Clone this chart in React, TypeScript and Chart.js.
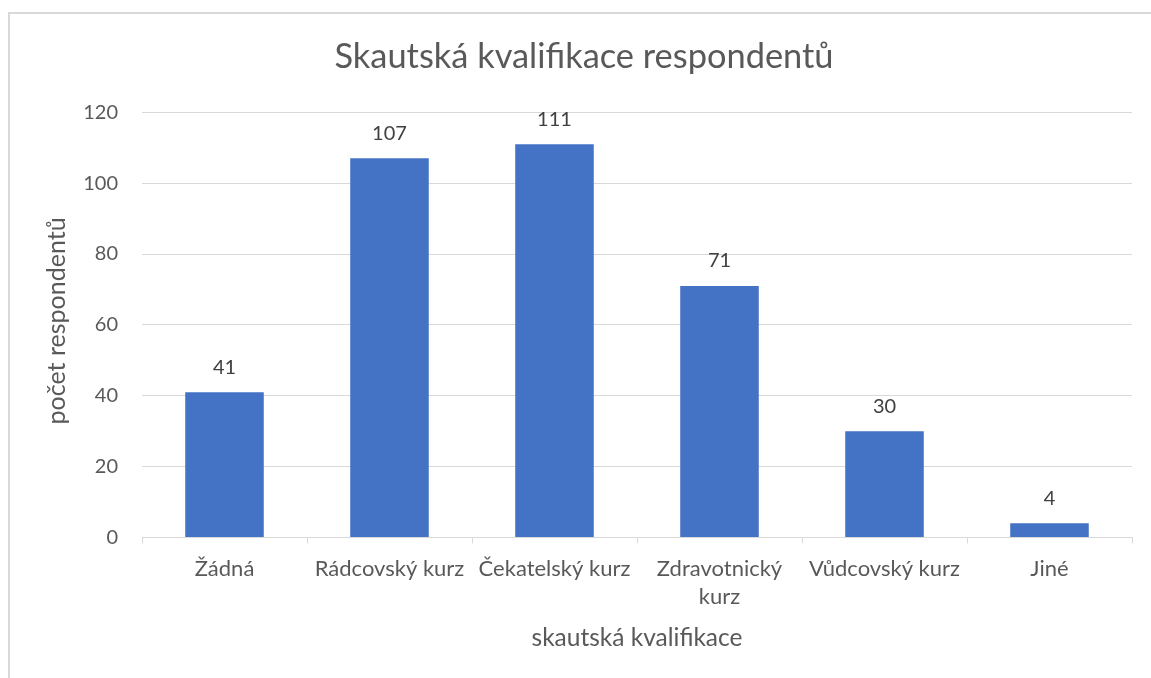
import React, { useEffect, useRef } from 'react';
import { Chart, registerables } from 'chart.js';

Chart.register(...registerables);

const categories: (string | string[])[] = [
  'Žádná',
  'Rádcovský kurz',
  'Čekatelský kurz',
  ['Zdravotnický', 'kurz'],
  'Vůdcovský kurz',
  'Jiné',
];
const counts = [41, 107, 111, 71, 30, 4];
const yTickValues = [0, 20, 40, 60, 80, 100, 120];
const chartTitle = 'Skautská kvalifikace respondentů';
const xAxisTitle = 'skautská kvalifikace';
const yAxisTitle = 'počet respondentů';

const FONT = 'Lato, "Open Sans", sans-serif';
const TEXT = '#595959';
const GRID = '#d9d9d9';
const BAR = '#4472c4';

const valueLabels = {
  id: 'valueLabels',
  afterDatasetsDraw(chart: any) {
    const { ctx } = chart;
    const meta = chart.getDatasetMeta(0);
    ctx.save();
    ctx.font = `20px ${FONT}`;
    ctx.fillStyle = '#404040';
    ctx.textAlign = 'center';
    ctx.textBaseline = 'middle';
    meta.data.forEach((bar: any, i: number) => {
      ctx.fillText(String(counts[i]), bar.x, bar.y - 25);
    });
    ctx.restore();
  },
};

const yTitlePlugin = {
  id: 'yTitle',
  afterDraw(chart: any) {
    const { ctx, chartArea } = chart;
    ctx.save();
    ctx.translate(chartArea.left - 85, (chartArea.top + chartArea.bottom) / 2 - 4);
    ctx.rotate(-Math.PI / 2);
    ctx.font = `25px ${FONT}`;
    ctx.fillStyle = TEXT;
    ctx.textAlign = 'center';
    ctx.textBaseline = 'middle';
    ctx.fillText(yAxisTitle, 0, 0);
    ctx.restore();
  },
};

export default function App() {
  const ref = useRef<HTMLCanvasElement | null>(null);

  useEffect(() => {
    if (!ref.current) return;
    const chart = new Chart(ref.current, {
      type: 'bar',
      data: {
        labels: categories as any,
        datasets: [
          {
            data: counts,
            backgroundColor: BAR,
            borderWidth: 0,
            barPercentage: 0.476,
            categoryPercentage: 1,
            yAxisID: 'y',
          },
        ],
      },
      options: {
        responsive: false,
        animation: false,
        layout: { padding: { left: 0, right: 0, top: 0, bottom: 0 } },
        plugins: {
          legend: { display: false },
          tooltip: { enabled: false },
          title: {
            display: true,
            text: chartTitle,
            color: TEXT,
            font: { family: FONT, size: 34.4, weight: 'normal', lineHeight: 1.2 },
            padding: { top: 22, bottom: 35 },
          },
        },
        scales: {
          x: {
            grid: {
              drawOnChartArea: false,
              drawTicks: true,
              tickLength: 6,
              color: GRID,
              lineWidth: 1,
            },
            border: { display: true, color: GRID, width: 1 },
            ticks: {
              color: TEXT,
              font: { family: FONT, size: 22, lineHeight: 1.24 },
              padding: 12,
              maxRotation: 0,
              minRotation: 0,
              autoSkip: false,
            },
            title: {
              display: true,
              text: xAxisTitle,
              color: TEXT,
              font: { family: FONT, size: 24.5, lineHeight: 1.2 },
              padding: { top: 0, bottom: 25.7 },
            },
            afterFit(scale: any) {
              scale.height = 140.5;
            },
          },
          y: {
            min: 0,
            max: 120,
            afterBuildTicks(scale: any) {
              scale.ticks = yTickValues.map((v) => ({ value: v }));
            },
            grid: { color: GRID, lineWidth: 1, drawTicks: false },
            border: { display: false },
            ticks: {
              color: TEXT,
              font: { family: FONT, size: 20 },
              padding: 24,
            },
            title: { display: false },
            afterFit(scale: any) {
              scale.width = 132;
            },
          },
          yRightSpace: {
            type: 'linear',
            position: 'right',
            display: true,
            grid: { display: false, drawTicks: false },
            border: { display: false },
            ticks: { display: false },
            title: { display: false },
            afterFit(scale: any) {
              scale.width = 26;
            },
          },
        },
      } as any,
      plugins: [valueLabels, yTitlePlugin],
    });
    return () => chart.destroy();
  }, []);

  return (
    <div
      style={{
        position: 'fixed',
        left: 8,
        top: 12,
        width: 1143,
        height: 666,
        borderLeft: `2px solid ${GRID}`,
        borderTop: `2px solid ${GRID}`,
        boxSizing: 'border-box',
        overflow: 'hidden',
        background: '#fff',
      }}
    >
      <canvas ref={ref} width={1148} height={664} style={{ display: 'block', width: 1148, height: 664 }} />
    </div>
  );
}
